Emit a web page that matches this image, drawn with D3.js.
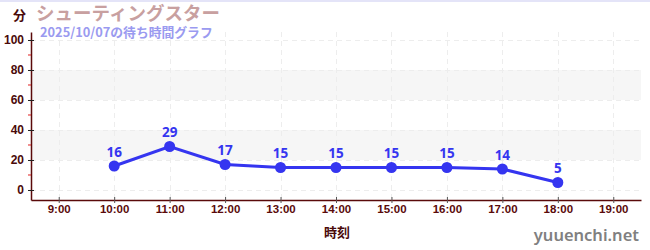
<!DOCTYPE html>
<html>
<head>
<meta charset="utf-8">
<script src="https://cdn.jsdelivr.net/npm/d3@7"></script>
<style>
  html, body { margin: 0; padding: 0; background: #fff; }
  svg { display: block; font-family: "Noto Sans CJK JP", "Noto Sans", sans-serif; }
</style>
</head>
<body>
<svg id="chart" width="650" height="250"></svg>
<script>
// Wait times through the day
const hours = [10, 11, 12, 13, 14, 15, 16, 17, 18];
const waits = [16, 29, 17, 15, 15, 15, 15, 14, 5];
const xTickHours = [9, 10, 11, 12, 13, 14, 15, 16, 17, 18, 19];
const yTicks = [0, 20, 40, 60, 80, 100];
const yMinorTicks = [10, 30, 50, 70, 90];
const bands = [[20, 40], [60, 80]];
const titleText = "シューティングスター";
const subtitleText = "2025/10/07の待ち時間グラフ";

const svg = d3.select("#chart");
const plotLeft = 31, plotRight = 641, plotTop = 32, plotBottom = 200;

const x = d3.scaleLinear().domain([8.5, 19.5]).range([plotLeft, plotRight]);
const y = d3.scaleLinear().domain([-6.67, 105.33]).range([plotBottom, plotTop]);

// top border
svg.append("rect").attr("x", 0).attr("y", 0).attr("width", 650).attr("height", 2).attr("fill", "#e4e4f8");

// shaded bands
svg.selectAll("rect.band").data(bands).join("rect")
  .attr("class", "band")
  .attr("x", plotLeft).attr("width", plotRight - plotLeft)
  .attr("y", d => y(d[1])).attr("height", d => y(d[0]) - y(d[1]))
  .attr("fill", "#f6f6f6");

// grid
svg.selectAll("line.hgrid").data(yTicks).join("line")
  .attr("class", "hgrid")
  .attr("x1", plotLeft).attr("x2", plotRight)
  .attr("y1", d => Math.round(y(d)) + 0.5).attr("y2", d => Math.round(y(d)) + 0.5)
  .attr("stroke", "#ededed").attr("stroke-dasharray", "5,4");
svg.selectAll("line.vgrid").data(xTickHours).join("line")
  .attr("class", "vgrid")
  .attr("y1", plotTop).attr("y2", plotBottom)
  .attr("x1", d => Math.round(x(d)) + 0.5).attr("x2", d => Math.round(x(d)) + 0.5)
  .attr("stroke", "#ededed").attr("stroke-dasharray", "5,4");

// x axis
const xAxis = d3.axisBottom(x).tickValues(xTickHours).tickFormat(d => d + ":00").tickSize(4).tickSizeOuter(0);
const gx = svg.append("g").attr("transform", `translate(0,${plotBottom})`).call(xAxis);
gx.select(".domain").attr("stroke", "#5a0a0a").attr("stroke-width", 1.5);
gx.selectAll(".tick line").attr("stroke", "#555").attr("y1", -3).attr("y2", 3);
gx.selectAll(".tick text").attr("fill", "#5a0a0a").attr("font-size", 11.5).attr("font-weight", "bold")
  .attr("dy", "0.5em").attr("font-family", "'Liberation Sans Narrow', 'Liberation Sans', sans-serif");

// y axis
const yAxis = d3.axisLeft(y).tickValues(yTicks).tickSize(3).tickSizeOuter(0).tickPadding(4);
const gy = svg.append("g").attr("transform", `translate(${plotLeft},0)`).call(yAxis);
gy.select(".domain").attr("stroke", "#5a0a0a").attr("stroke-width", 1.5);
gy.selectAll(".tick line").attr("stroke", "#222").attr("x1", -3).attr("x2", 3);
gy.selectAll(".tick text").attr("fill", "#4a0a0a").attr("font-size", 12).attr("font-weight", "bold")
  .attr("font-family", "'Liberation Sans', sans-serif");
svg.selectAll("line.ymin").data(yMinorTicks).join("line")
  .attr("class", "ymin")
  .attr("x1", plotLeft - 3).attr("x2", plotLeft)
  .attr("y1", d => y(d)).attr("y2", d => y(d))
  .attr("stroke", "#e02020");

// series line and points
const pts = hours.map((h, i) => [h, waits[i]]);
svg.append("path").datum(pts)
  .attr("fill", "none").attr("stroke", "#3535f0").attr("stroke-width", 3)
  .attr("d", d3.line().x(d => x(d[0])).y(d => y(d[1])));
svg.selectAll("circle.pt").data(pts).join("circle")
  .attr("class", "pt")
  .attr("cx", d => x(d[0])).attr("cy", d => y(d[1])).attr("r", 5.5)
  .attr("fill", "#3535f0");
svg.selectAll("text.val").data(pts).join("text")
  .attr("class", "val")
  .attr("x", d => x(d[0])).attr("y", d => y(d[1]) - 9)
  .attr("text-anchor", "middle").attr("fill", "#3535f0")
  .attr("font-size", 13.5).attr("font-weight", "bold")
  .attr("font-family", "'Noto Sans', sans-serif")
  .text(d => d[1]);

// titles
svg.append("text").attr("x", 13).attr("y", 20).attr("fill", "#4a0a0a")
  .attr("font-size", 13).attr("font-weight", "bold").text("分");
svg.append("text").attr("x", 36).attr("y", 20).attr("fill", "#c8a0a0")
  .attr("font-size", 18.5).attr("font-weight", "bold").text(titleText);
svg.append("text").attr("x", 40).attr("y", 36.5).attr("fill", "#9a9af0")
  .attr("font-size", 12.8).attr("font-weight", "bold").text(subtitleText);

// axis title and site name
svg.append("text").attr("x", 337).attr("y", 237).attr("text-anchor", "middle").attr("fill", "#4a0a0a")
  .attr("font-size", 13).attr("font-weight", "bold").text("時刻");
svg.append("text").attr("x", 639).attr("y", 241).attr("text-anchor", "end").attr("fill", "#808080")
  .attr("font-size", 16.5).attr("font-weight", 600).attr("font-family", "'Noto Sans', sans-serif").text("yuuenchi.net");
</script>
</body>
</html>
